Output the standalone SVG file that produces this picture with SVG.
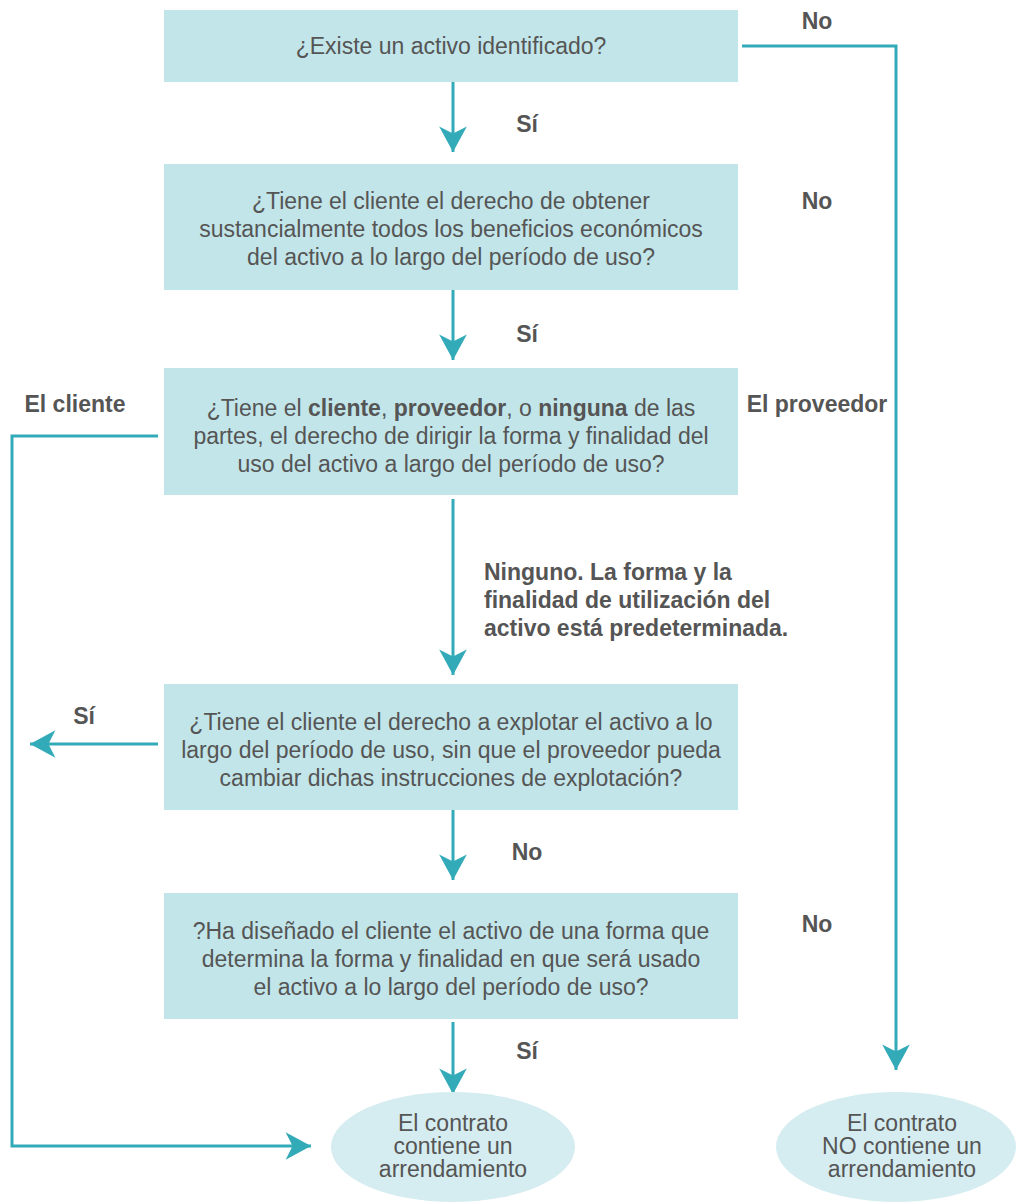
<svg xmlns="http://www.w3.org/2000/svg" width="1016" height="1203" viewBox="0 0 1016 1203">
<style>
.box{fill:#c2e5e9}
.ell{fill:#d5edf0}
.t{font-family:"Liberation Sans",Arial,sans-serif;font-size:23px;fill:#555;text-anchor:middle}
.b{font-family:"Liberation Sans",Arial,sans-serif;font-size:23px;font-weight:bold;fill:#555;text-anchor:middle}
.bl{text-anchor:start}
.c{fill:none;stroke:#33aab8;stroke-width:3}
</style>
<defs>
<marker id="ah" markerUnits="userSpaceOnUse" markerWidth="30" markerHeight="30" viewBox="-24 -13 26 26" refX="0" refY="0" orient="auto">
<path d="M0,0 L-22,-12 L-16,0 L-22,12 Z" fill="#33aab8"/>
</marker>
</defs>
<rect width="1016" height="1203" fill="#fff"/>
<g id="connectors">
<line class="c" x1="453" y1="82" x2="453" y2="152" marker-end="url(#ah)"/>
<line class="c" x1="453" y1="290" x2="453" y2="360" marker-end="url(#ah)"/>
<line class="c" x1="453" y1="499" x2="453" y2="675" marker-end="url(#ah)"/>
<line class="c" x1="453" y1="810" x2="453" y2="880" marker-end="url(#ah)"/>
<line class="c" x1="453" y1="1022" x2="453" y2="1094" marker-end="url(#ah)"/>
<polyline class="c" points="742,46 896,46 896,1070" marker-end="url(#ah)"/>
<polyline class="c" points="158,436 12,436 12,1146 311,1146" marker-end="url(#ah)"/>
<line class="c" x1="158" y1="744" x2="30" y2="744" marker-end="url(#ah)"/>
</g>
<g id="n1">
<rect class="box" x="164" y="10" width="574" height="72"/>
<text class="t" x="451" y="54">¿Existe un activo identificado?</text>
</g>
<g id="n2">
<rect class="box" x="164" y="164" width="574" height="126"/>
<text class="t" x="451" y="209">¿Tiene el cliente el derecho de obtener</text>
<text class="t" x="451" y="237">sustancialmente todos los beneficios económicos</text>
<text class="t" x="451" y="265">del activo a lo largo del período de uso?</text>
</g>
<g id="n3">
<rect class="box" x="164" y="368" width="574" height="127"/>
<text class="t" x="451" y="416">¿Tiene el <tspan font-weight="bold">cliente</tspan>, <tspan font-weight="bold">proveedor</tspan>, o <tspan font-weight="bold">ninguna</tspan> de las</text>
<text class="t" x="451" y="444">partes, el derecho de dirigir la forma y finalidad del</text>
<text class="t" x="451" y="472">uso del activo a largo del período de uso?</text>
</g>
<g id="n4">
<rect class="box" x="164" y="684" width="574" height="126"/>
<text class="t" x="451" y="730">¿Tiene el cliente el derecho a explotar el activo a lo</text>
<text class="t" x="451" y="758">largo del período de uso, sin que el proveedor pueda</text>
<text class="t" x="451" y="786">cambiar dichas instrucciones de explotación?</text>
</g>
<g id="n5">
<rect class="box" x="164" y="893" width="574" height="126"/>
<text class="t" x="451" y="939">?Ha diseñado el cliente el activo de una forma que</text>
<text class="t" x="451" y="967">determina la forma y finalidad en que será usado</text>
<text class="t" x="451" y="995">el activo a lo largo del período de uso?</text>
</g>
<g id="n6">
<ellipse class="ell" cx="453" cy="1147" rx="122" ry="55"/>
<text class="t" x="453" y="1131">El contrato</text>
<text class="t" x="453" y="1154">contiene un</text>
<text class="t" x="453" y="1177">arrendamiento</text>
</g>
<g id="n7">
<ellipse class="ell" cx="896" cy="1147" rx="120" ry="55"/>
<text class="t" x="902" y="1131">El contrato</text>
<text class="t" x="902" y="1154">NO contiene un</text>
<text class="t" x="902" y="1177">arrendamiento</text>
</g>
<g id="labels">
<text class="b" x="817" y="29">No</text>
<text class="b" x="527" y="132">Sí</text>
<text class="b" x="817" y="209">No</text>
<text class="b" x="527" y="342">Sí</text>
<text class="b" x="75" y="412">El cliente</text>
<text class="b" x="817" y="412">El proveedor</text>
<text class="b bl" x="484" y="580">Ninguno. La forma y la</text>
<text class="b bl" x="484" y="608">finalidad de utilización del</text>
<text class="b bl" x="484" y="636">activo está predeterminada.</text>
<text class="b" x="84" y="724">Sí</text>
<text class="b" x="527" y="860">No</text>
<text class="b" x="817" y="932">No</text>
<text class="b" x="527" y="1059">Sí</text>
</g>
</svg>
